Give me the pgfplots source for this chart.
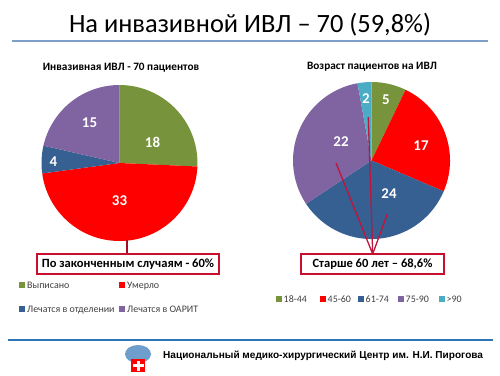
\documentclass[border=0pt]{standalone}
\usepackage{pgfplots}
\pgfplotsset{compat=1.18}
\usepackage{pgfplotstable}
\usepackage{fontspec}
\setmainfont{Carlito}
\newfontfamily\footfont{Liberation Sans}

\definecolor{cgreen}{HTML}{77933C}
\definecolor{cred}{HTML}{FF0000}
\definecolor{cblue}{HTML}{376092}
\definecolor{cpurple}{HTML}{8064A2}
\definecolor{ccyan}{HTML}{4BACC6}
\definecolor{boxred}{HTML}{C8102E}
\definecolor{linered}{HTML}{C0143C}
\definecolor{topline}{HTML}{7F9FCB}
\definecolor{botline}{HTML}{2E75B6}
\definecolor{legtext}{HTML}{404040}

% outcome of patients on invasive ventilation
\pgfplotstableread{
v lx ly
18 33 -21
33 0 38
4 -66 -1
15 -30 -40
}\pieA
% age groups
\pgfplotstableread{
v lx ly
5 14.5 -60.5
17 49.5 -14.5
24 17.5 33.5
22 -30.5 -18.5
2 -5.5 -61.5
}\pieB

\newcommand\pielab{\bfseries\fontsize{15}{17}\selectfont}
\newcommand\legsq[1]{\textcolor{#1}{\raisebox{0.3bp}{\rule{6bp}{6bp}}}}

\newcommand\drawpie[5]{%
  \pgfplotstablegetrowsof{#1}\pgfmathtruncatemacro\lastrow{\pgfplotsretval-1}%
  \gdef\pietotal{0}%
  \foreach \i in {0,...,\lastrow}{%
    \pgfplotstablegetelem{\i}{v}\of#1%
    \pgfmathsetmacro\t{\pietotal+\pgfplotsretval}\xdef\pietotal{\t}}%
  \gdef\curang{90}%
  \foreach \c [count=\n from 0] in {#5}{%
    \pgfplotstablegetelem{\n}{v}\of#1\let\val\pgfplotsretval
    \pgfplotstablegetelem{\n}{lx}\of#1\let\lx\pgfplotsretval
    \pgfplotstablegetelem{\n}{ly}\of#1\let\ly\pgfplotsretval
    \pgfmathsetmacro\endang{\curang-\val*360/\pietotal}%
    \pgfmathsetmacro\nx{#2+\lx}%
    \pgfmathsetmacro\ny{#3+\ly}%
    \edef\tmp{\noexpand\fill[\c] (axis cs:#2,#3) -- ++(\curang:#4bp) arc[start angle=\curang, end angle=\endang, radius=#4bp] -- cycle;
      \noexpand\node[font=\noexpand\pielab, text=white] at (axis cs:\nx,\ny) {\val};}%
    \tmp
    \xdef\curang{\endang}%
  }%
}

\begin{document}
\begin{tikzpicture}
\begin{axis}[x=1bp, y=1bp, y dir=reverse, xmin=0, xmax=500, ymin=0, ymax=375,
  hide axis, clip=false, scale only axis]
\path (axis cs:0,0) rectangle (axis cs:500,375);
% main title
\node[anchor=base, font=\fontsize{26.5}{30}\selectfont, text=black] at (axis cs:250,32) {На инвазивной ИВЛ – 70 (59,8\%)};
\draw[topline, line width=2bp] (axis cs:12,41) -- (axis cs:488,41);
% chart titles
\node[anchor=base, font=\bfseries\fontsize{11.3}{13}\selectfont] at (axis cs:121,70) {Инвазивная ИВЛ - 70 пациентов};
\node[anchor=base, font=\bfseries\fontsize{11.3}{13}\selectfont] at (axis cs:372,69) {Возраст пациентов на ИВЛ};
% pies
\drawpie{\pieA}{119.5}{163}{78}{cgreen,cred,cblue,cpurple}
\drawpie{\pieB}{371.5}{160.5}{78.5}{cgreen,cred,cblue,cpurple,ccyan}
% connectors
\draw[boxred!80!black, line width=1.2bp] (axis cs:127,240) -- (axis cs:127,254);
\draw[linered, line width=1.3bp] (axis cs:336,163) -- (axis cs:372.7,254) -- (axis cs:368.3,117);
\draw[linered, line width=1.3bp] (axis cs:372.7,254) -- (axis cs:387.3,214);
% boxes
\draw[boxred, line width=2bp, fill=white] (axis cs:37,254) rectangle (axis cs:219,274);
\node[font=\bfseries\fontsize{12.6}{14}\selectfont] at (axis cs:128,264.5) {По законченным случаям - 60\%};
\draw[boxred, line width=2bp, fill=white] (axis cs:301,254) rectangle (axis cs:444,274);
\node[font=\bfseries\fontsize{12.6}{14}\selectfont] at (axis cs:372.5,264.5) {Старше 60 лет – 68,6\%};
% legends
\begin{scope}[every node/.style={anchor=base west, inner sep=0pt, font=\fontsize{10}{12}\selectfont, text=legtext}]
\node at (axis cs:19,288.5) {\legsq{cgreen}\hspace{2bp}Выписано};
\node at (axis cs:119,288.5) {\legsq{cred}\hspace{2bp}Умерло};
\node at (axis cs:19,312.5) {\legsq{cblue}\hspace{2bp}Лечатся в отделении};
\node at (axis cs:119,312.5) {\legsq{cpurple}\hspace{2bp}Лечатся в ОАРИТ};
\node at (axis cs:276,302.5) {\legsq{cgreen}\hspace{1.5bp}18-44};
\node at (axis cs:320,302.5) {\legsq{cred}\hspace{1.5bp}45-60};
\node at (axis cs:358,302.5) {\legsq{cblue}\hspace{1.5bp}61-74};
\node at (axis cs:398,302.5) {\legsq{cpurple}\hspace{1.5bp}75-90};
\node at (axis cs:439,302.5) {\legsq{ccyan}\hspace{1.5bp}>90};
\end{scope}
% footer
\draw[botline, line width=2bp] (axis cs:8,340) -- (axis cs:493,340);
\fill[botline!70!white] (axis cs:138,354) ellipse [x radius=13bp, y radius=9bp];
\fill[cred] (axis cs:131,359) rectangle (axis cs:145,372);
\fill[white] (axis cs:136.5,360.5) rectangle (axis cs:139.5,370.5);
\fill[white] (axis cs:132.5,364) rectangle (axis cs:143.5,367);
\node[anchor=west, inner sep=0pt, font=\footfont\bfseries\fontsize{10.1}{12}\selectfont] at (axis cs:163,356) {Национальный медико-хирургический Центр им. Н.И. Пирогова};
\end{axis}
\end{tikzpicture}
\end{document}
